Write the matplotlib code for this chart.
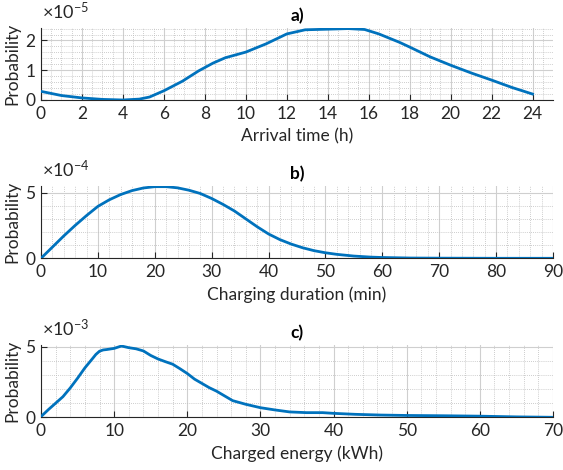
import matplotlib
matplotlib.use("Agg")
import matplotlib.pyplot as plt
from matplotlib.ticker import MultipleLocator

plt.rcParams['font.family'] = ['Lato', 'DejaVu Sans']
plt.rcParams['mathtext.fontset'] = 'custom'
plt.rcParams['mathtext.rm'] = 'Lato'
plt.rcParams['mathtext.it'] = 'Lato:italic'

# ---- data (probability values in units of the shown exponent) ----
arrival_h = [0, 1, 2, 3, 4, 4.8, 5.3, 6, 6.9, 7.7, 8.4, 9, 10, 11, 12, 12.9, 14, 15, 15.8, 16.5,
             17.5, 18, 19, 20, 21, 22, 23, 24]
arrival_p = [0.29, 0.15, 0.07, 0.02, 0.0, 0.03, 0.1, 0.31, 0.63, 0.98, 1.24, 1.42, 1.61, 1.89,
             2.22, 2.36, 2.38, 2.40, 2.37, 2.22, 1.94, 1.78, 1.45, 1.17, 0.91, 0.67, 0.42, 0.2]

duration_min = [0, 2, 4, 6, 8, 10, 12, 14, 16, 18, 20, 22, 24, 26, 28, 30, 32, 34, 36, 38, 40,
                42, 44, 46, 48, 50, 52, 55, 58, 60, 65, 70, 80, 90]
duration_p = [0, 0.85, 1.7, 2.5, 3.25, 3.95, 4.45, 4.85, 5.15, 5.35, 5.45, 5.45, 5.36, 5.18,
              4.93, 4.55, 4.1, 3.6, 3.0, 2.4, 1.85, 1.42, 1.08, 0.8, 0.58, 0.42, 0.3, 0.17,
              0.09, 0.06, 0.02, 0.01, 0.0, 0.0]

energy_kwh = [0, 1, 2, 3, 4, 5, 6, 7, 7.5, 8, 8.5, 9, 10, 11, 12, 13, 14, 15, 16, 17, 18, 19,
              20, 21, 22, 23, 24, 26.2, 28, 30, 32, 34, 36.3, 38.5, 40, 43, 46.4, 50, 55, 60,
              65, 70]
energy_p = [0.05, 0.54, 1.0, 1.46, 2.08, 2.77, 3.5, 4.13, 4.45, 4.68, 4.77, 4.8, 4.88, 5.05,
            4.93, 4.85, 4.7, 4.38, 4.13, 3.94, 3.76, 3.44, 3.1, 2.7, 2.4, 2.1, 1.85, 1.18,
            0.92, 0.68, 0.52, 0.38, 0.33, 0.33, 0.28, 0.21, 0.16, 0.13, 0.11, 0.08, 0.03, 0.0]

panels = [
    dict(x=arrival_h, y=arrival_p, xlabel='Arrival time (h)', title='a)', exp='-5',
         xlim=(0, 25), ylim=(0, 2.42), xmaj=2, xmin=0.5, ymaj=1, ymin=0.2),
    dict(x=duration_min, y=duration_p, xlabel='Charging duration (min)', title='b)', exp='-4',
         xlim=(0, 90), ylim=(0, 5.5), xmaj=10, xmin=2, ymaj=5, ymin=1),
    dict(x=energy_kwh, y=energy_p, xlabel='Charged energy (kWh)', title='c)', exp='-3',
         xlim=(0, 70), ylim=(0, 5.12), xmaj=10, xmin=2, ymaj=5, ymin=1),
]

W, H = 563, 470
fig = plt.figure(figsize=(W / 100, H / 100), dpi=100)
tops = [28, 186, 345]
bottoms = [100, 258.3, 417.3]
left, right = 41, 553
FS = 12.5

for p, t, b in zip(panels, tops, bottoms):
    ax = fig.add_axes([left / W, (H - b) / H, (right - left) / W, (b - t) / H])
    ax.plot(p['x'], p['y'], color='#0072BD', lw=2.0, solid_joinstyle='round', zorder=3)
    ax.set_xlim(*p['xlim'])
    ax.set_ylim(*p['ylim'])
    ax.xaxis.set_major_locator(MultipleLocator(p['xmaj']))
    ax.xaxis.set_minor_locator(MultipleLocator(p['xmin']))
    ax.yaxis.set_major_locator(MultipleLocator(p['ymaj']))
    ax.yaxis.set_minor_locator(MultipleLocator(p['ymin']))
    ax.set_axisbelow(True)
    ax.grid(which='major', color='#cfcfcf', lw=0.8, ls='-')
    ax.grid(which='minor', color='#bdbdbd', lw=0.6, ls=(0, (1, 1.5)))
    for s in ['top', 'right']:
        ax.spines[s].set_visible(False)
    for s in ['left', 'bottom']:
        ax.spines[s].set_color('#262626')
        ax.spines[s].set_linewidth(0.8)
    ax.tick_params(which='major', direction='in', length=4, width=0.8, colors='#262626',
                   labelsize=FS, labelcolor='#262626', pad=4)
    ax.tick_params(which='minor', length=0)
    ax.set_xlabel(p['xlabel'], fontsize=FS, color='#262626', labelpad=5)
    ax.set_ylabel('Probability', fontsize=FS, color='#262626')
    ax.yaxis.set_label_coords(-0.040, 0.5)
    ax.set_title(p['title'], fontsize=FS, fontweight='bold', pad=5)
    ax.annotate('$\\times$10$^{' + p['exp'] + '}$', xy=(0, 1), xycoords='axes fraction',
                xytext=(1, 4.5), textcoords='offset points', ha='left', va='bottom',
                fontsize=13, color='#262626')

fig.savefig('out.png', dpi=100)
